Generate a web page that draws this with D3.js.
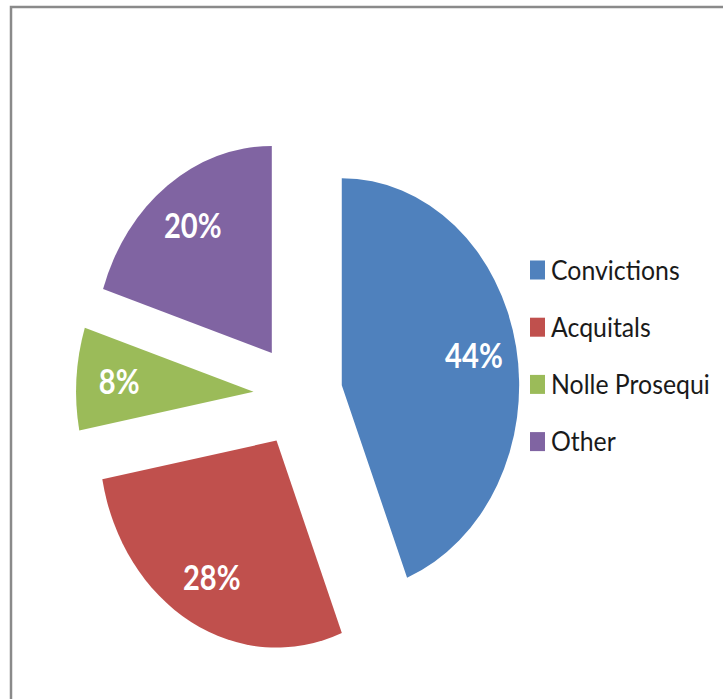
<!DOCTYPE html>
<html>
<head>
<meta charset="utf-8" />
<title>Case outcomes pie</title>
<style>
body { margin: 0; background: #fff; }
#graph { width: 723px; height: 699px; }
.pct { font-family: Lato, "Open Sans", sans-serif; font-weight: bold; fill: #fff; }
.legend text { font-family: Lato, "Open Sans", sans-serif; fill: #1a1a1a; }
</style>
</head>
<body>
<div id="graph"></div>
<script src="https://cdnjs.cloudflare.com/ajax/libs/d3/7.8.5/d3.min.js"></script>
<script>
var categories = ["Convictions", "Acquitals", "Nolle Prosequi", "Other"]
var values = [44, 28, 8, 20]
var colors = ["#4F81BD", "#C0504D", "#9BBB59", "#8064A2"]

!(function(){
    "use strict"

    var width = 723, height = 699
    var sx = 0.857            // the original picture is squeezed horizontally
    var radius = 207
    var explode = 52
    var center = {x: 298, y: 395}

    var svg = d3.select("#graph").append("svg")
        .attr("width", width).attr("height", height)

    // outer frame, runs off the right and bottom edges
    svg.append("rect")
        .attr("x", 11).attr("y", 7)
        .attr("width", 900).attr("height", 900)
        .attr("fill", "#fff")
        .attr("stroke", "#8a8a8a")
        .attr("stroke-width", 2.5)

    var data = categories.map(function(c, i){ return {name: c, value: values[i], color: colors[i]} })

    var pie = d3.pie().sort(null).value(function(d){ return d.value })
    var arc = d3.arc().innerRadius(0).outerRadius(radius)
    var labelArc = d3.arc().innerRadius(157).outerRadius(157)

    var chartLayer = svg.append("g")
        .attr("transform", "translate(" + [center.x, center.y] + ") scale(" + sx + ",1)")

    var slice = chartLayer.selectAll(".slice").data(pie(data))
        .enter().append("g").classed("slice", true)
        .attr("transform", function(d){
            var m = (d.startAngle + d.endAngle) / 2
            return "translate(" + [Math.sin(m) * explode, -Math.cos(m) * explode] + ")"
        })

    slice.append("path")
        .attr("d", arc)
        .attr("fill", function(d){ return d.data.color })

    slice.append("text").classed("pct", true)
        .attr("transform", function(d){ return "translate(" + labelArc.centroid(d) + ")" })
        .attr("text-anchor", "middle")
        .attr("dy", "0.36em")
        .attr("font-size", 34)
        .text(function(d){ return d.data.value + "%" })

    // legend
    var legend = svg.append("g").classed("legend", true)
    var item = legend.selectAll(".item").data(data)
        .enter().append("g").classed("item", true)
        .attr("transform", function(d, i){ return "translate(" + [530, 270 + i * 57.2] + ")" })

    item.append("rect")
        .attr("x", 0).attr("y", -9.5)
        .attr("width", 15).attr("height", 19)
        .attr("fill", function(d){ return d.color })

    item.append("text")
        .attr("transform", "translate(21,0) scale(0.92,1)")
        .attr("dy", "0.36em")
        .attr("font-size", 27)
        .text(function(d){ return d.name })
}());
</script>
</body>
</html>
